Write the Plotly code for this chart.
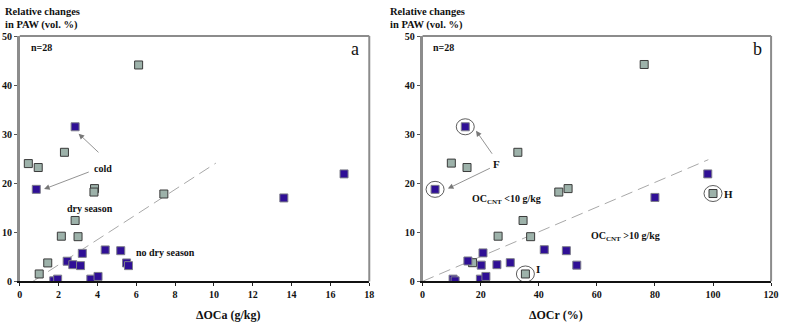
import plotly.graph_objects as go

# ---- Data ----
# Panel a: ΔOCa (g/kg) vs relative change in PAW (vol. %)
gray_a_x = [0.44, 0.95, 2.3, 3.85, 3.82, 7.42, 2.85, 2.14, 3.0, 1.44, 1.0, 6.12]
gray_a_y = [24.0, 23.2, 26.3, 18.9, 18.2, 17.8, 12.4, 9.2, 9.1, 3.75, 1.5, 44.1]
blue_a_x = [2.85, 0.85, 3.22, 4.4, 5.2, 2.44, 2.73, 3.13, 5.5, 5.6, 1.75, 1.95, 3.66, 4.03, 13.6, 16.7]
blue_a_y = [31.5, 18.75, 5.7, 6.4, 6.25, 4.1, 3.4, 3.2, 3.75, 3.2, 0.1, 0.45, 0.45, 1.0, 17.0, 21.9]

# Panel b: ΔOCr (%) vs relative change in PAW (vol. %)
gray_b_x = [9.9, 15.3, 32.8, 46.9, 50.1, 34.6, 26.0, 37.2, 17.2, 35.4, 76.3, 100.0]
gray_b_y = [24.1, 23.2, 26.3, 18.2, 18.9, 12.4, 9.2, 9.1, 3.8, 1.5, 44.2, 17.9]
blue_b_x = [14.7, 4.3, 20.8, 41.9, 49.5, 15.6, 20.2, 25.6, 30.2, 53.1, 10.5, 11.2, 19.9, 21.8, 80.0, 98.2]
blue_b_y = [31.5, 18.75, 5.8, 6.45, 6.25, 4.15, 3.3, 3.4, 3.8, 3.3, 0.45, 0.1, 0.45, 1.0, 17.1, 21.9]

# Trend (dashed) lines
trend_a_x = [0.68, 10.1]
trend_a_y = [0.0, 24.1]
trend_b_x = [0.0, 98.4]
trend_b_y = [0.0, 24.8]

# Tick values
ticks_a_x = [0, 2, 4, 6, 8, 10, 12, 14, 16, 18]
ticks_b_x = [0, 20, 40, 60, 80, 100, 120]
ticks_y = [0, 10, 20, 30, 40, 50]

# Circled points in panel b (coordinates of points)
circled_x = [14.7, 4.3, 35.4, 100.0]
circled_y = [31.5, 18.75, 1.5, 17.9]

SERIF = "Times New Roman, Liberation Serif, serif"
BLUE = "#2f0f96"
GRAY = "#9db2aa"

fig = go.Figure()

mk_blue = dict(symbol="square", size=8, color=BLUE, line=dict(color="#7d7d8a", width=1))
mk_gray = dict(symbol="square", size=8, color=GRAY, line=dict(color="#3a3a3a", width=1))
dash_line = dict(color="#a8a8a8", width=1, dash="12px,6px")

fig.add_trace(go.Scatter(x=trend_a_x, y=trend_a_y, mode="lines", line=dash_line, xaxis="x", yaxis="y", showlegend=False))
fig.add_trace(go.Scatter(x=gray_a_x, y=gray_a_y, mode="markers", marker=mk_gray, xaxis="x", yaxis="y", showlegend=False))
fig.add_trace(go.Scatter(x=blue_a_x, y=blue_a_y, mode="markers", marker=mk_blue, xaxis="x", yaxis="y", showlegend=False))

fig.add_trace(go.Scatter(x=trend_b_x, y=trend_b_y, mode="lines", line=dash_line, xaxis="x2", yaxis="y2", showlegend=False))
fig.add_trace(go.Scatter(x=gray_b_x, y=gray_b_y, mode="markers", marker=mk_gray, xaxis="x2", yaxis="y2", showlegend=False))
fig.add_trace(go.Scatter(x=blue_b_x, y=blue_b_y, mode="markers", marker=mk_blue, xaxis="x2", yaxis="y2", showlegend=False))

W, H = 785, 329
ydom = [(H - 285) / H, (H - 32) / H]
xdom_a = [17 / W, 371 / W]
xdom_b = [425 / W, 778 / W]

tickfont = dict(family=SERIF, size=10, color="#111", weight="bold")

def xax(dom, rng, tv, anchor):
    return dict(domain=dom, range=rng, tickvals=tv, ticks="outside", ticklen=3, tickcolor="#222",
                showline=True, linecolor="#111", linewidth=1.5, showgrid=False, zeroline=False,
                tickfont=tickfont, anchor=anchor, fixedrange=True, ticklabeloverflow="allow")

def yax(anchor):
    return dict(domain=ydom, range=[0, 50], tickvals=ticks_y, ticks="outside", ticklen=3, tickcolor="#555",
                showline=True, linecolor="#8c8c8c", linewidth=2.5, showgrid=False, zeroline=False,
                tickfont=tickfont, anchor=anchor, fixedrange=True, ticklabeloverflow="allow")

fig.update_layout(
    width=W, height=H,
    margin=dict(l=0, r=0, t=0, b=0),
    paper_bgcolor="white", plot_bgcolor="white",
    xaxis=xax(xdom_a, [0, 18], ticks_a_x, "y"),
    yaxis=yax("x"),
    xaxis2=xax(xdom_b, [0, 120], ticks_b_x, "y2"),
    yaxis2=yax("x2"),
    font=dict(family=SERIF, color="#111"),
)

shapes = []
# top and right borders (gray)
for xr, yr in [("x domain", "y domain"), ("x2 domain", "y2 domain")]:
    shapes.append(dict(type="line", xref=xr, yref=yr, x0=0, x1=1, y0=1, y1=1, line=dict(color="#8c8c8c", width=2)))
    shapes.append(dict(type="line", xref=xr, yref=yr, x0=1, x1=1, y0=0, y1=1, line=dict(color="#8c8c8c", width=2)))
# circles around marked points in panel b
for cx, cy in zip(circled_x, circled_y):
    shapes.append(dict(type="circle", xref="x2", yref="y2", xsizemode="pixel", ysizemode="pixel",
                       xanchor=cx, yanchor=cy, x0=-9, x1=9, y0=-8, y1=8,
                       line=dict(color="#333", width=0.8)))
fig.update_layout(shapes=shapes)

ann = []
txt = dict(family=SERIF, size=11, color="#111", weight="bold")
bold = dict(family=SERIF, size=10, color="#111", weight="bold")
title_font = dict(family=SERIF, size=10.5, color="#111", weight="bold")

# Y titles (two lines each)
for xp in [0.0, 390 / W]:
    ann.append(dict(xref="paper", yref="paper", x=xp, y=(H - 7) / H, xanchor="left", yanchor="middle",
                    text="Relative changes", showarrow=False, font=title_font))
    ann.append(dict(xref="paper", yref="paper", x=xp, y=(H - 20.5) / H, xanchor="left", yanchor="middle",
                    text="in PAW (vol. %)", showarrow=False, font=title_font))
# X titles
ann.append(dict(xref="paper", yref="paper", x=193 / W, y=(H - 320) / H, yanchor="middle", text="ΔOCa (g/kg)",
                showarrow=False, font=dict(family=SERIF, size=12, color="#111", weight="bold")))
ann.append(dict(xref="paper", yref="paper", x=590 / W, y=(H - 320) / H, yanchor="middle", text="ΔOCr (%)",
                showarrow=False, font=dict(family=SERIF, size=12, color="#111", weight="bold")))

# panel a texts
ann += [
    dict(xref="x", yref="y", x=0.45, y=47.6, text="n=28", showarrow=False, xanchor="left", font=bold),
    dict(xref="x", yref="y", x=17.27, y=47.4, text="a", showarrow=False, font=dict(family=SERIF, size=18, color="#111")),
    dict(xref="x", yref="y", x=4.3, y=23.1, text="cold", showarrow=False, font=bold),
    dict(xref="x", yref="y", x=3.63, y=14.8, text="dry season", showarrow=False, font=bold),
    dict(xref="x", yref="y", x=7.52, y=5.9, text="no dry season", showarrow=False, font=bold),
]
# panel a arrows
for tx, ty, hx, hy in [(4.13, 26.0, 3.03, 30.1), (3.63, 22.4, 1.25, 18.8)]:
    ann.append(dict(xref="x", yref="y", axref="x", ayref="y", x=hx, y=hy, ax=tx, ay=ty, text="",
                    showarrow=True, arrowhead=2, arrowsize=1.4, arrowwidth=0.8, arrowcolor="#777"))

# panel b texts
ann += [
    dict(xref="x2", yref="y2", x=3.0, y=47.6, text="n=28", showarrow=False, xanchor="left", font=bold),
    dict(xref="x2", yref="y2", x=115.3, y=47.4, text="b", showarrow=False, font=dict(family=SERIF, size=18, color="#111")),
    dict(xref="x2", yref="y2", x=25.5, y=24.0, text="F", showarrow=False, font=txt),
    dict(xref="x2", yref="y2", x=28.9, y=16.7, text="OC<sub>CNT</sub> <10 g/kg", showarrow=False, font=bold),
    dict(xref="x2", yref="y2", x=69.7, y=9.2, text="OC<sub>CNT</sub> >10 g/kg", showarrow=False, font=bold),
    dict(xref="x2", yref="y2", x=105.4, y=17.8, text="H", showarrow=False, font=txt),
    dict(xref="x2", yref="y2", x=39.7, y=2.6, text="I", showarrow=False, font=txt),
]
for tx, ty, hx, hy in [(24.3, 25.7, 18.4, 30.7), (23.7, 23.2, 8.7, 18.9)]:
    ann.append(dict(xref="x2", yref="y2", axref="x2", ayref="y2", x=hx, y=hy, ax=tx, ay=ty, text="",
                    showarrow=True, arrowhead=2, arrowsize=1.4, arrowwidth=0.8, arrowcolor="#777"))

fig.update_layout(annotations=ann)

fig.write_html("out.html", config={"displayModeBar": False},
               post_script="document.body.style.margin='0';document.body.style.overflow='hidden';")
